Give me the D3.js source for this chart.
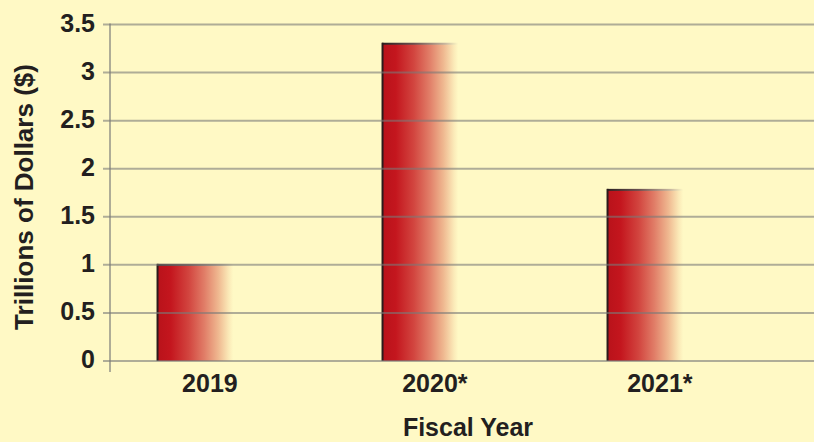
<!DOCTYPE html>
<html lang="en">
<head>
  <meta charset="UTF-8">
  <title>Fiscal Year Bars</title>
  <script src="https://d3js.org/d3.v7.min.js"></script>
  <style>
    body {
      margin: 0;
      padding: 0;
      background-color: #fff9c5;
      font-family: "Liberation Sans", Arial, sans-serif;
    }
    svg { display: block; }
  </style>
</head>
<body>
  <svg id="chart"></svg>
  <script>
    // chart data
    const years = ["2019", "2020*", "2021*"];
    const trillions = [1.0, 3.3, 1.78];
    const yTicks = [0, 0.5, 1, 1.5, 2, 2.5, 3, 3.5];
    const yTickLabels = ["0", "0.5", "1", "1.5", "2", "2.5", "3", "3.5"];

    const width = 814, height = 442;
    const bg = "#fff9c5";

    const svg = d3.select("#chart")
      .attr("width", width)
      .attr("height", height);

    svg.append("rect")
      .attr("width", width).attr("height", height)
      .attr("fill", bg);

    // scales
    const y = d3.scaleLinear().domain([0, 3.5]).range([361, 24.5]);
    const x = d3.scaleBand()
      .domain(years)
      .range([97.4, 772.4])
      .paddingInner(0.53)
      .paddingOuter(0.265);

    // bar gradient (red fading into the background)
    const defs = svg.append("defs");
    const grad = defs.append("linearGradient")
      .attr("id", "barGrad")
      .attr("x1", "0%").attr("x2", "100%")
      .attr("y1", "0%").attr("y2", "0%");
    [
      [0, "#b8121a"], [0.13, "#c4161e"], [0.3, "#d2453f"],
      [0.45, "#e17e68"], [0.58, "#efb890"], [0.68, "#fbeab8"],
      [0.72, bg], [1, bg]
    ].forEach(([o, c]) => grad.append("stop").attr("offset", o).attr("stop-color", c));

    const topGrad = defs.append("linearGradient")
      .attr("id", "topGrad")
      .attr("x1", "0%").attr("x2", "100%")
      .attr("y1", "0%").attr("y2", "0%");
    [
      [0, "#2a2020"], [0.3, "#6a5050"], [0.6, "#c8b8a0"], [0.72, bg], [1, bg]
    ].forEach(([o, c]) => topGrad.append("stop").attr("offset", o).attr("stop-color", c));

    // bars
    const bars = svg.append("g").selectAll("g")
      .data(years.map((d, i) => ({ year: d, value: trillions[i] })))
      .join("g");

    bars.append("rect")
      .attr("x", d => x(d.year))
      .attr("y", d => y(d.value))
      .attr("width", x.bandwidth())
      .attr("height", d => y(0) - y(d.value))
      .attr("fill", "url(#barGrad)");

    bars.append("rect")
      .attr("x", d => x(d.year))
      .attr("y", d => y(d.value) - 1)
      .attr("width", x.bandwidth())
      .attr("height", 2)
      .attr("fill", "url(#topGrad)");

    bars.append("line")
      .attr("x1", d => x(d.year) + 0.5)
      .attr("x2", d => x(d.year) + 0.5)
      .attr("y1", d => y(d.value) - 1)
      .attr("y2", y(0))
      .attr("stroke", "#2a1c1c")
      .attr("stroke-width", 2);

    // gridlines drawn over the bars
    svg.append("g").selectAll("line")
      .data(yTicks)
      .join("line")
      .attr("x1", 103).attr("x2", width)
      .attr("y1", d => y(d)).attr("y2", d => y(d))
      .attr("stroke", "#7a7a78")
      .attr("stroke-opacity", 0.6)
      .attr("stroke-width", 2);

    // y axis line
    svg.append("line")
      .attr("x1", 110).attr("x2", 110)
      .attr("y1", y(3.5) - 1).attr("y2", 372)
      .attr("stroke", "#7a7a78")
      .attr("stroke-opacity", 0.6)
      .attr("stroke-width", 2);

    // y tick labels
    svg.append("g").selectAll("text")
      .data(yTicks)
      .join("text")
      .attr("x", 95)
      .attr("y", d => y(d) + 7)
      .attr("text-anchor", "end")
      .attr("font-size", "25px")
      .attr("font-weight", "bold")
      .attr("fill", "#231f20")
      .text((d, i) => yTickLabels[i]);

    // x labels
    svg.append("g").selectAll("text")
      .data(years)
      .join("text")
      .attr("x", d => x(d) + x.bandwidth() / 2)
      .attr("y", 392)
      .attr("text-anchor", "middle")
      .attr("font-size", "25px")
      .attr("font-weight", "bold")
      .attr("fill", "#231f20")
      .text(d => d);

    // axis titles
    svg.append("text")
      .attr("x", 468)
      .attr("y", 436)
      .attr("text-anchor", "middle")
      .attr("font-size", "25px")
      .attr("font-weight", "bold")
      .attr("fill", "#231f20")
      .text("Fiscal Year");

    svg.append("text")
      .attr("transform", "translate(33,197) rotate(-90)")
      .attr("text-anchor", "middle")
      .attr("font-size", "26px")
      .attr("font-weight", "bold")
      .attr("fill", "#231f20")
      .text("Trillions of Dollars ($)");
  </script>
</body>
</html>
